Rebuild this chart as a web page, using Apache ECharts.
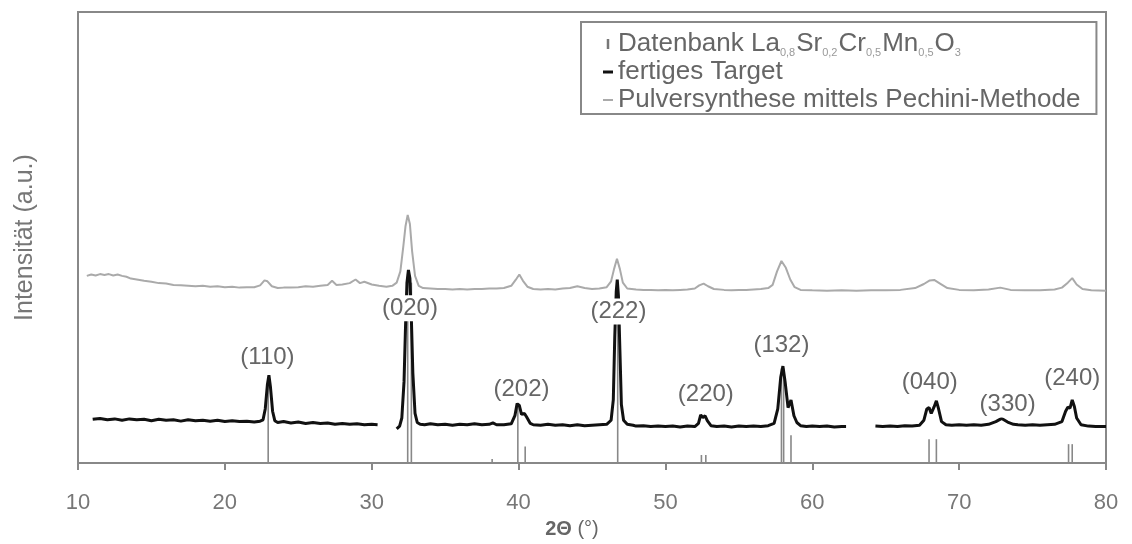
<!DOCTYPE html>
<html><head><meta charset="utf-8">
<script src="https://cdn.jsdelivr.net/npm/echarts@6/dist/echarts.min.js"></script>
<style>html,body{margin:0;padding:0;background:#fff}#c{width:1132px;height:544px}</style>
</head><body><div id="c"></div>
<script>
// x-axis tick labels
var xTicks = [10, 20, 30, 40, 50, 60, 70, 80];

// Pulversynthese mittels Pechini-Methode (grey trace) [2theta, intensity a.u.]
var pulverData = [
[10.6,41.5],[10.9,41.8],[11.2,41.6],[11.5,41.9],[11.8,41.7],[12.1,41.9],[12.4,41.6],[12.7,41.8],[13.0,41.5],[13.3,41.3],
[13.6,40.9],[14.0,40.7],[14.5,40.4],[15.0,40.2],[15.5,39.9],[16.0,39.8],[16.5,39.5],[17.0,39.4],[17.5,39.3],[18.0,39.2],
[18.5,39.3],[19.0,39.1],[19.5,39.2],[20.0,39.0],[20.5,39.1],[21.0,38.9],[21.5,39.0],[22.0,39.0],[22.4,39.4],[22.7,40.5],
[22.9,40.3],[23.2,39.2],[23.6,38.8],[24.0,38.9],[24.5,38.9],[25.0,39.0],[25.5,39.2],[26.0,39.1],[26.5,39.3],[27.0,39.5],
[27.3,40.4],[27.6,39.5],[28.0,39.6],[28.5,39.9],[28.9,40.7],[29.2,39.9],[29.5,40.2],[30.0,39.6],[30.5,39.3],[31.0,39.1],
[31.4,39.3],[31.7,40.0],[31.95,42.5],[32.15,48.0],[32.3,52.5],[32.45,55.0],[32.6,53.0],[32.75,47.0],[32.95,41.5],[33.2,39.3],
[33.5,38.8],[34.0,38.7],[34.5,38.6],[35.0,38.6],[35.5,38.5],[36.0,38.6],[36.5,38.5],[37.0,38.6],[37.5,38.6],[38.0,38.7],
[38.5,38.7],[39.0,38.8],[39.5,39.3],[39.8,40.6],[40.05,41.8],[40.3,40.4],[40.6,39.1],[41.0,38.6],[41.5,38.5],[42.0,38.6],
[42.5,38.5],[43.0,38.7],[43.5,38.8],[44.0,39.2],[44.5,38.8],[45.0,38.6],[45.5,38.7],[46.0,39.0],[46.3,40.3],[46.5,43.0],
[46.7,45.3],[46.9,43.0],[47.1,40.0],[47.4,38.7],[48.0,38.5],[48.5,38.4],[49.0,38.4],[49.5,38.3],[50.0,38.4],[50.5,38.3],
[51.0,38.4],[51.5,38.5],[52.0,38.7],[52.3,39.4],[52.6,39.8],[52.9,39.2],[53.3,38.6],[54.0,38.4],[54.5,38.3],[55.0,38.4],
[55.5,38.4],[56.0,38.5],[56.5,38.6],[57.0,38.8],[57.3,39.5],[57.6,42.5],[57.9,44.8],[58.2,43.3],[58.5,40.7],[58.8,39.0],
[59.2,38.4],[60.0,38.3],[61.0,38.2],[62.0,38.3],[63.0,38.2],[64.0,38.3],[65.0,38.3],[66.0,38.4],[67.0,38.8],[67.6,39.7],
[68.0,40.5],[68.3,40.6],[68.7,39.8],[69.2,38.8],[70.0,38.4],[71.0,38.3],[72.0,38.5],[72.8,38.9],[73.5,38.4],[74.5,38.3],
[75.5,38.3],[76.5,38.5],[77.0,38.9],[77.4,40.0],[77.7,41.0],[78.0,39.6],[78.4,38.6],[79.0,38.3],[80.0,38.2]
];

// fertiges Target (black trace), three measured segments
var targetSeg1 = [
[11.0,9.7],[11.5,9.9],[12.0,9.6],[12.5,9.8],[13.0,9.5],[13.5,9.8],[14.0,9.6],[14.5,9.7],[15.0,9.4],[15.5,9.7],
[16.0,9.5],[16.5,9.6],[17.0,9.3],[17.5,9.6],[18.0,9.4],[18.5,9.5],[19.0,9.3],[19.5,9.5],[20.0,9.2],[20.5,9.4],
[21.0,9.2],[21.5,9.3],[22.0,9.1],[22.4,9.3],[22.6,9.6],[22.75,12.0],[22.9,17.5],[23.0,19.5],[23.1,17.0],[23.25,11.5],
[23.4,9.4],[23.6,9.0],[24.0,9.2],[24.5,8.9],[25.0,9.1],[25.5,8.8],[26.0,9.0],[26.5,8.8],[27.0,8.9],[27.5,8.6],
[28.0,8.8],[28.5,8.6],[29.0,8.7],[29.5,8.5],[30.0,8.6],[30.4,8.5]
];
var targetSeg2 = [
[31.7,7.6],[31.9,8.2],[32.05,10.0],[32.2,18.0],[32.3,30.0],[32.4,40.0],[32.5,42.8],[32.6,41.0],[32.7,32.0],[32.8,20.0],
[32.95,11.0],[33.1,9.0],[33.3,8.6],[33.6,8.5],[34.0,8.7],[34.5,8.5],[35.0,8.6],[35.5,8.4],[36.0,8.6],[36.5,8.5],
[37.0,8.7],[37.5,8.5],[38.0,8.6],[38.25,8.9],[38.5,8.5],[39.0,8.5],[39.5,8.7],[39.75,10.5],[39.9,13.2],[40.05,12.8],
[40.2,10.8],[40.4,11.0],[40.55,10.2],[40.8,8.8],[41.0,8.5],[41.5,8.4],[42.0,8.6],[42.5,8.4],[43.0,8.5],[43.5,8.3],
[44.0,8.5],[44.5,8.3],[45.0,8.4],[45.5,8.5],[46.0,8.6],[46.3,9.5],[46.45,14.0],[46.55,28.0],[46.65,38.0],[46.72,40.7],
[46.8,37.0],[46.9,25.0],[47.0,13.0],[47.15,9.5],[47.4,8.6],[47.8,8.4],[48.0,8.2],[48.5,8.3],[49.0,8.1],[49.5,8.2],
[50.0,8.1],[50.5,8.2],[51.0,8.0],[51.5,8.2],[52.0,8.1],[52.25,8.8],[52.4,10.7],[52.55,10.1],[52.7,10.5],[52.85,9.4],
[53.1,8.3],[53.5,8.1],[54.0,8.2],[54.5,8.0],[55.0,8.2],[55.5,8.1],[56.0,8.2],[56.5,8.1],[57.0,8.3],[57.4,8.8],
[57.65,12.0],[57.85,19.0],[58.0,21.5],[58.15,18.0],[58.35,12.3],[58.55,14.0],[58.75,10.5],[58.95,9.0],[59.2,8.3],[59.6,8.1],
[60.0,8.2],[60.5,8.1],[61.0,8.2],[61.5,8.0],[62.0,8.1],[62.3,8.1]
];
var targetSeg3 = [
[64.3,8.2],[64.8,8.1],[65.3,8.2],[65.8,8.1],[66.3,8.3],[66.8,8.2],[67.3,8.4],[67.6,9.5],[67.8,12.0],[67.95,12.3],
[68.1,11.0],[68.3,12.5],[68.45,13.8],[68.6,12.0],[68.8,9.2],[69.1,8.5],[69.5,8.4],[70.0,8.5],[70.5,8.4],[71.0,8.5],
[71.5,8.4],[72.0,8.6],[72.5,9.2],[72.9,9.9],[73.3,9.1],[73.7,8.6],[74.0,8.5],[74.5,8.4],[75.0,8.5],[75.5,8.4],
[76.0,8.5],[76.5,8.6],[77.0,9.2],[77.25,11.5],[77.4,12.4],[77.55,12.2],[77.7,14.0],[77.85,12.5],[78.0,10.0],[78.3,8.5],
[78.8,8.2],[79.3,8.1],[80.0,8.1]
];

// Datenbank reference reflections [2theta, stick height]
var dbPos = [22.95, 32.45, 32.7, 38.2, 39.95, 40.45, 46.75, 52.45, 52.75, 57.9, 58.05, 58.55, 67.95, 68.45, 77.45, 77.7];
var dbHeight = [19.0, 42.0, 40.0, 0.9, 13.0, 3.7, 40.0, 1.8, 1.8, 21.0, 21.0, 6.2, 5.3, 5.3, 4.2, 4.2];

// Miller index annotations
var hklNames = ['(110)', '(020)', '(202)', '(222)', '(220)', '(132)', '(040)', '(330)', '(240)'];
var hklX = [22.9, 32.6, 40.2, 46.8, 52.75, 57.9, 68.0, 73.3, 77.7];
var hklY = [23.4, 34.3, 16.3, 33.6, 15.2, 26.2, 18.0, 13.0, 18.8];

var NAME_DB = 'Datenbank';
var NAME_T = 'fertiges Target';
var NAME_P = 'Pulversynthese mittels Pechini-Methode';

var targetData = targetSeg1.concat([[30.9, '-']], targetSeg2, [[63.3, '-']], targetSeg3);
var dbData = dbPos.map(function (x, i) { return [x, dbHeight[i]]; });
var hklData = hklNames.map(function (n, i) { return [hklX[i], hklY[i], i]; });

var FONT = '"Liberation Sans", Arial, sans-serif';
var chart = echarts.init(document.getElementById('c'), null, {renderer: 'canvas'});
chart.setOption({
  animation: false,
  backgroundColor: '#fff',
  textStyle: {fontFamily: FONT},
  grid: {left: 78, right: 26, top: 12, bottom: 77, show: true, borderColor: '#888', borderWidth: 2, backgroundColor: 'transparent'},
  legend: {
    orient: 'vertical', left: 581, top: 22,
    padding: [8, 16, 0, 22], itemGap: 0,
    itemWidth: 10, itemHeight: 10,
    borderColor: '#888', borderWidth: 2, backgroundColor: '#fff',
    selectedMode: false,
    data: [
      {name: NAME_DB, icon: 'path://M4,1 L6,1 L6,9 L4,9 Z', itemStyle: {color: '#777'}},
      {name: NAME_T, icon: 'path://M0,3.5 L10,3.5 L10,6.5 L0,6.5 Z', itemStyle: {color: '#111'}},
      {name: NAME_P, icon: 'path://M0,4 L10,4 L10,6 L0,6 Z', itemStyle: {color: '#aaa'}}
    ],
    formatter: function (name) {
      if (name === NAME_DB) {
        return '{t|Datenbank La}{s|0,8}{t|Sr}{s|0,2}{t|Cr}{s|0,5}{t|Mn}{s|0,5}{t|O}{s|3}';
      }
      return '{t|' + name + '}';
    },
    textStyle: {
      fontFamily: FONT, color: '#666', fontSize: 26, lineHeight: 28,
      rich: {
        t: {fontFamily: FONT, color: '#666', fontSize: 26, lineHeight: 28},
        s: {fontFamily: FONT, color: '#999', fontSize: 11, lineHeight: 12, verticalAlign: 'bottom', padding: [0, 1, 0, 0]}
      }
    }
  },
  xAxis: {
    type: 'value', min: 10, max: 80, interval: 10,
    name: '{b|2Θ} (°)', nameLocation: 'middle', nameGap: 47,
    nameTextStyle: {color: '#666', fontSize: 20, fontFamily: FONT, padding: [0, 40, 0, 0],
      rich: {b: {fontWeight: 'bold', color: '#666', fontSize: 20, fontFamily: FONT}}},
    axisLine: {show: true, lineStyle: {color: '#888', width: 2}},
    axisTick: {show: true, inside: false, length: 7, lineStyle: {color: '#888', width: 2}},
    axisLabel: {color: '#777', fontSize: 22, margin: 29, fontFamily: FONT},
    splitLine: {show: false}
  },
  yAxis: {
    type: 'value', min: 0, max: 100,
    name: 'Intensität (a.u.)', nameLocation: 'middle', nameGap: 40, nameRotate: 90,
    nameTextStyle: {color: '#777', fontSize: 25, fontFamily: FONT},
    axisLine: {show: false}, axisTick: {show: false}, axisLabel: {show: false}, splitLine: {show: false}
  },
  series: [
    {
      name: NAME_P, type: 'line', data: pulverData, showSymbol: false, symbol: 'none', z: 1,
      lineStyle: {color: '#aaa', width: 2}, itemStyle: {color: '#aaa'}
    },
    {
      name: NAME_DB, type: 'bar', data: dbData, barWidth: 1.6, z: 2,
      itemStyle: {color: '#888'}
    },
    {
      name: NAME_T, type: 'line', data: targetData, showSymbol: false, symbol: 'none', z: 3, connectNulls: false,
      lineStyle: {color: '#111', width: 3}, itemStyle: {color: '#111'}
    },
    {
      name: 'hkl', type: 'custom', data: hklData, z: 20, silent: true,
      encode: {x: 0, y: 1},
      renderItem: function (params, api) {
        var pt = api.coord([api.value(0), api.value(1)]);
        var txt = hklNames[api.value(2)];
        return {
          type: 'group', z2: 100,
          children: [
            {type: 'rect', z2: 100, shape: {x: pt[0] - 29, y: pt[1] - 13, width: 58, height: 26}, style: {fill: '#fff'}},
            {type: 'text', z2: 101, x: pt[0], y: pt[1], style: {text: txt, fill: '#666', font: '24px "Liberation Sans", Arial, sans-serif', align: 'center', verticalAlign: 'middle'}}
          ]
        };
      }
    }
  ]
});
</script>
</body></html>
